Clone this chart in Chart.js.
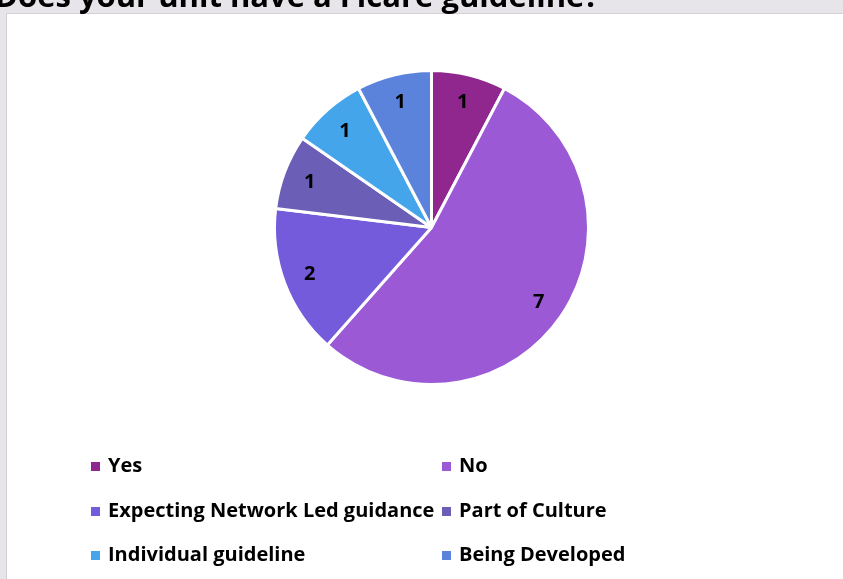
<!DOCTYPE html>
<html>
<head>
<meta charset="utf-8">
<style>
  html, body { margin: 0; padding: 0; background: #e8e5ea; }
  #wrap { width: 843px; height: 579px; position: relative; }
</style>
<script src="https://cdn.jsdelivr.net/npm/chart.js@4/dist/chart.umd.min.js"></script>
</head>
<body>
<div id="wrap"><canvas id="chart" width="843" height="579"></canvas></div>
<script>
/* global Chart */

const titleText = "Does your unit have a Ficare guideline?";
const categories = ["Yes", "No", "Expecting Network Led guidance", "Part of Culture", "Individual guideline", "Being Developed"];
const counts = [1, 7, 2, 1, 1, 1];
const sliceColors = ["#8f278e", "#9b59d5", "#745bdb", "#6a5eb6", "#45a5eb", "#5b83dc"];

const FONT = "'Open Sans', sans-serif";

// panel background + the (clipped) title strip above it
const backdropPlugin = {
  id: "backdrop",
  beforeDraw(chart) {
    const { ctx, width, height } = chart;
    ctx.save();
    ctx.fillStyle = "#e8e5ea";
    ctx.fillRect(0, 0, width, height);
    ctx.fillStyle = "#ffffff";
    ctx.fillRect(7, 14, width - 7, height - 14);
    ctx.strokeStyle = "#d3d0d6";
    ctx.lineWidth = 1;
    ctx.beginPath();
    ctx.moveTo(6.5, height);
    ctx.lineTo(6.5, 13.5);
    ctx.lineTo(width, 13.5);
    ctx.stroke();
    ctx.fillStyle = "#000000";
    ctx.font = `bold 31px ${FONT}`;
    ctx.textBaseline = "alphabetic";
    ctx.textAlign = "left";
    ctx.fillText(titleText, -5, 7);
    ctx.restore();
  }
};

// value labels inside each slice
const sliceLabelsPlugin = {
  id: "sliceLabels",
  afterDatasetsDraw(chart) {
    const { ctx } = chart;
    const meta = chart.getDatasetMeta(0);
    const values = chart.data.datasets[0].data;
    ctx.save();
    ctx.fillStyle = "#000000";
    ctx.font = `bold 20px ${FONT}`;
    ctx.textAlign = "center";
    ctx.textBaseline = "middle";
    meta.data.forEach((arc, i) => {
      const p = arc.getProps(["x", "y", "startAngle", "endAngle", "outerRadius"], true);
      const mid = (p.startAngle + p.endAngle) / 2;
      const r = p.outerRadius * 0.83;
      ctx.fillText(String(values[i]), p.x + Math.cos(mid) * r, p.y + Math.sin(mid) * r + 1);
    });
    ctx.restore();
  }
};

// two-column legend under the pie
const gridLegendPlugin = {
  id: "gridLegend",
  afterDraw(chart) {
    const { ctx } = chart;
    const labels = chart.data.labels;
    const colors = chart.data.datasets[0].backgroundColor;
    const colX = [91, 442];
    const rowY = [472, 517, 561];
    ctx.save();
    ctx.font = `bold 20px ${FONT}`;
    ctx.textAlign = "left";
    ctx.textBaseline = "alphabetic";
    labels.forEach((label, i) => {
      const x = colX[i % 2];
      const y = rowY[Math.floor(i / 2)];
      ctx.fillStyle = colors[i];
      ctx.fillRect(x, y - 10, 9, 9);
      ctx.fillStyle = "#000000";
      ctx.fillText(label, x + 17, y);
    });
    ctx.restore();
  }
};

new Chart(document.getElementById("chart").getContext("2d"), {
  type: "pie",
  data: {
    labels: categories,
    datasets: [{
      data: counts,
      backgroundColor: sliceColors,
      borderColor: "#ffffff",
      borderWidth: 3,
      hoverOffset: 0
    }]
  },
  options: {
    responsive: false,
    animation: false,
    events: [],
    layout: { padding: { top: 69, bottom: 193, left: 20, right: 0 } },
    plugins: {
      legend: { display: false },
      tooltip: { enabled: false }
    }
  },
  plugins: [backdropPlugin, sliceLabelsPlugin, gridLegendPlugin]
});
</script>
</body>
</html>
